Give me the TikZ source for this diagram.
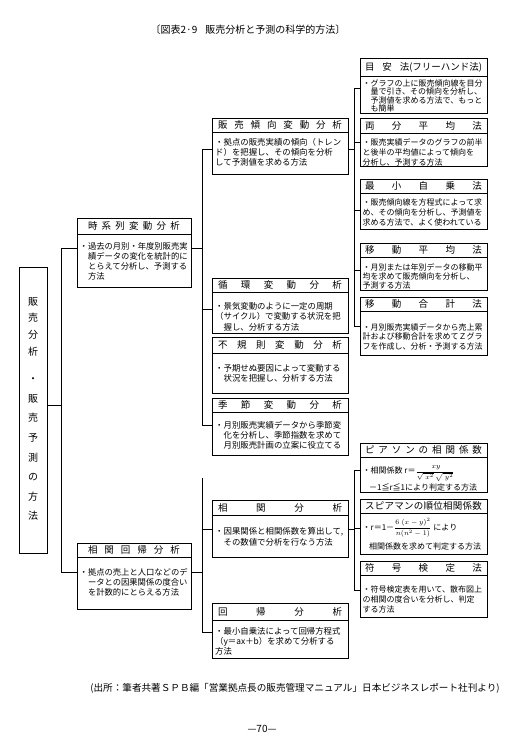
\documentclass[tikz,border=0pt]{standalone}
\usepackage{amsmath}
\usepackage{fontspec}
\newfontfamily\jp{Noto Sans CJK JP}
\usetikzlibrary{calc}
\newcommand\spr[2]{\hbox to #1pt{#2}}
\newcommand\tls{\lineskiplimit=-5pt\relax}
\newcommand\fs[2]{\jp\fontsize{#1}{#2}\selectfont\tls}
\newcommand\bx[7]{%
  \node[bx, minimum width=#4pt, minimum height=#5pt] (#1) at (#2,#3) {};
  \draw[sepl] (#2,#3+#6) -- (#2+#4,#3+#6);
  \node[ttl] (#1t) at (#2+#4/2,#3+#6/2) {#7};
}
\begin{document}
\begin{tikzpicture}[x=1pt,y=-1pt,
  bx/.style={draw, line width=0.9pt, inner sep=0pt, anchor=north west},
  sepl/.style={line width=0.8pt},
  ttl/.style={font={\fs{9.5}{11}}, inner sep=0pt},
  bR/.style={font={\fs{8}{9.7}}, align=left, inner sep=0pt, anchor=north west},
  bM/.style={font={\fs{8.4}{10.2}}, align=left, inner sep=0pt, anchor=north west},
  conn/.style={line width=0.9pt},
  lbl/.style={font={\fs{10}{12}}, inner sep=0pt}]
\useasboundingbox[fill=white] (0,0) rectangle (514,744);

\node[lbl] (title) at (248,30) {〔図表2·9\hspace{0.8em}販売分析と予測の科学的方法〕};

% left box
\node[bx, minimum width=28pt, minimum height=286pt] (lb) at (19,267) {};
\node[font={\fs{10}{19.6}}, align=center, inner sep=0pt, anchor=north] (lbt) at (33,297) {販\\[-3pt]売\\[-3pt]分\\[-3pt]析\\[8pt]・\\販\\売\\予\\測\\の\\方\\法};

% left column
\bx{jk}{77}{218}{114}{69}{16}{\spr{92}{時\hfil 系\hfil 列\hfil 変\hfil 動\hfil 分\hfil 析}}
\node[bM, font={\fs{8.3}{10}}] (jkb) at (79.5,242.5) {・過去の月別・年度別販売実\\\hspace*{1em}績データの変化を統計的に\\\hspace*{1em}とらえて分析し、予測する\\\hspace*{1em}方法};

\bx{sk}{77}{543}{114}{66}{14}{\spr{92}{相\hfil 関\hfil 回\hfil 帰\hfil 分\hfil 析}}
\node[bM, font={\fs{8.3}{10}}] (skb) at (79.5,568) {・拠点の売上と人口などのデ\\\hspace*{1em}ータとの因果関係の度合い\\\hspace*{1em}を計数的にとらえる方法};

% middle column
\bx{hb}{212}{118}{136}{56}{14}{\spr{124}{販\hfil 売\hfil 傾\hfil 向\hfil 変\hfil 動\hfil 分\hfil 析}}
\node[bM] (hbb) at (215,138) {・拠点の販売実績の傾向（トレン\\ド）を把握し、その傾向を分析\\して予測値を求める方法};

\bx{jn}{212}{278}{136}{55}{14}{\spr{124}{循\hfil 環\hfil 変\hfil 動\hfil 分\hfil 析}}
\node[bM] (jnb) at (215,302.5) {・景気変動のように一定の周期\\（サイクル）で変動する状況を把\\\hspace*{1em}握し、分析する方法};

\bx{fk}{212}{337}{136}{56}{16}{\spr{124}{不\hfil 規\hfil 則\hfil 変\hfil 動\hfil 分\hfil 析}}
\node[bM] (fkb) at (215,364) {・予期せぬ要因によって変動する\\\hspace*{1em}状況を把握し、分析する方法};

\bx{ks}{212}{398}{136}{57}{14}{\spr{124}{季\hfil 節\hfil 変\hfil 動\hfil 分\hfil 析}}
\node[bM] (ksb) at (215,421) {・月別販売実績データから季節変\\\hspace*{1em}化を分析し、季節指数を求めて\\\hspace*{1em}月別販売計画の立案に役立てる};

\bx{sa}{212}{500}{136}{57}{15}{\spr{124}{相\hfil 関\hfil 分\hfil 析}}
\node[bM] (sab) at (215,527.5) {・因果関係と相関係数を算出して,\\\hspace*{1em}その数値で分析を行なう方法};

\bx{kk}{212}{603}{136}{55}{17}{\spr{124}{回\hfil 帰\hfil 分\hfil 析}}
\node[bM, font={\fs{8.4}{10}}] (kkb) at (215,627.5) {・最小自乗法によって回帰方程式\\（y＝ax＋b）を求めて分析する\\方法};

% right column
\bx{my}{360}{58}{127}{55}{18}{\spr{117}{目\hfil 安\hfil 法(フリーハンド法)}}
\node[bR, font={\fs{8}{8.3}}] (myb) at (362.5,79.5) {・グラフの上に販売傾向線を目分\\\hspace*{1em}量で引き、その傾向を分析し、\\\hspace*{1em}予測値を求める方法で、もっと\\\hspace*{1em}も簡単};

\bx{rb}{360}{118}{127}{48}{15}{\spr{117}{両\hfil 分\hfil 平\hfil 均\hfil 法}}
\node[bR] (rbb) at (362.5,138.8) {・販売実績データのグラフの前半\\と後半の平均値によって傾向を\\分析し、予測する方法};

\bx{ss}{360}{179}{127}{50}{14}{\spr{117}{最\hfil 小\hfil 自\hfil 乗\hfil 法}}
\node[bR, font={\fs{8}{10}}] (ssb) at (362.5,199) {・販売傾向線を方程式によって求\\め、その傾向を分析し、予測値を\\求める方法で、よく使われている};

\bx{ih}{360}{243}{127}{47}{14}{\spr{117}{移\hfil 動\hfil 平\hfil 均\hfil 法}}
\node[bR, font={\fs{8}{9.2}}] (ihb) at (362.5,263) {・月別または年別データの移動平\\均を求めて販売傾向を分析し、\\予測する方法};

\bx{ig}{360}{297}{127}{58}{14}{\spr{117}{移\hfil 動\hfil 合\hfil 計\hfil 法}}
\node[bR] (igb) at (362.5,323) {・月別販売実績データから売上累\\計および移動合計を求めてＺグラ\\フを作成し、分析・予測する方法};

\bx{pe}{360}{443}{127}{49}{14}{\spr{117}{ピ\hfil ア\hfil ソ\hfil ン\hfil の\hfil 相\hfil 関\hfil 係\hfil 数}}
\node[bR, anchor=base west] (peb) at (362.5,473.5) {・相関係数 r＝{\fontsize{7}{8}\selectfont$\dfrac{\mathit{\Sigma} xy\rule[-1.5pt]{0pt}{1pt}}{\sqrt{\mathit{\Sigma} x^2}\,\sqrt{\mathit{\Sigma} y^2}}$}};
\node[bR] (peb2) at (369,483.5) {－1≦r≦1により判定する方法};

\bx{sp}{360}{499}{127}{55}{14}{\spr{117}{ス\hfil ピ\hfil ア\hfil マ\hfil ン\hfil の\hfil 順\hfil 位\hfil 相\hfil 関\hfil 係\hfil 数}}
\node[bR, anchor=base west] (spb) at (362.5,530) {・r＝1－{\fontsize{7.5}{8}\selectfont$\dfrac{6\mathit{\Sigma}(x-y)^2}{n(n^2-1)}$} により};
\node[bR] (spb2) at (369,543) {相関係数を求めて判定する方法};

\bx{fg}{360}{561}{127}{56}{14}{\spr{117}{符\hfil 号\hfil 検\hfil 定\hfil 法}}
\node[bR] (fgb) at (362.5,586) {・符号検定表を用いて、散布図上\\の相関の度合いを分析し、判定\\する方法};

% connectors: left
\coordinate (L0) at (61,405);
\coordinate (L1) at (61,248);
\coordinate (L2) at (61,572);
\draw[conn] (L1) -- (L2);
\draw[conn] (L0 -| lb.east) -- (L0);
\draw[conn] (L1) -- (L1 -| jk.west);
\draw[conn] (L2) -- (L2 -| sk.west);
% middle upper
\coordinate (M1) at (202,149);
\coordinate (M2) at (202,248);
\coordinate (M3) at (202,309);
\coordinate (M4) at (202,425);
\draw[conn] (M1) -- (M4);
\draw[conn] (M2 -| jk.east) -- (M2);
\draw[conn] (M1) -- (M1 -| hb.west);
\draw[conn] (M3) -- (M3 -| jn.west);
\draw[conn] (M4) -- (M4 -| ks.west);
% middle lower
\coordinate (N0) at (202,478);
\coordinate (N1) at (202,529);
\coordinate (N2) at (202,572);
\coordinate (N3) at (202,632);
\draw[conn] (N0) -- (N3);
\draw[conn] (N2 -| sk.east) -- (N2);
\draw[conn] (N1) -- (N1 -| sa.west);
\draw[conn] (N3) -- (N3 -| kk.west);
% right upper
\coordinate (R1) at (354,88);
\coordinate (R2) at (354,142);
\coordinate (Rh) at (354,149);
\coordinate (R3) at (354,210);
\coordinate (R4) at (354,270);
\coordinate (R5) at (354,326);
\draw[conn] (R1) -- (R5);
\draw[conn] (Rh -| hb.east) -- (Rh);
\draw[conn] (R1) -- (R1 -| my.west);
\draw[conn] (R2) -- (R2 -| rb.west);
\draw[conn] (R3) -- (R3 -| ss.west);
\draw[conn] (R4) -- (R4 -| ih.west);
\draw[conn] (R5) -- (R5 -| ig.west);
% right lower
\coordinate (S1) at (354,470);
\coordinate (Sh) at (354,529);
\coordinate (S2) at (354,528);
\coordinate (S3) at (354,590);
\draw[conn] (S1) -- (S3);
\draw[conn] (Sh -| sa.east) -- (Sh);
\draw[conn] (S1) -- (S1 -| pe.west);
\draw[conn] (S2) -- (S2 -| sp.west);
\draw[conn] (S3) -- (S3 -| fg.west);

% footer
\node[font={\fs{9.6}{11}}, inner sep=0pt] (src) at (295,688) {(出所：筆者共著ＳＰＢ編「営業拠点長の販売管理マニュアル」日本ビジネスレポート社刊より)};
\node[lbl] (pg) at (262,729) {—70—};
\end{tikzpicture}
\end{document}
